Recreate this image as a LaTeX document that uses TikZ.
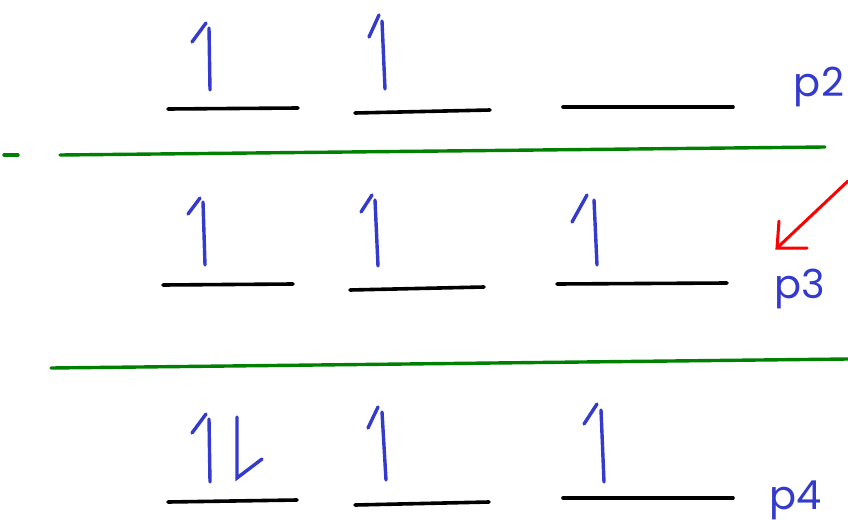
\documentclass[tikz,border=0pt]{standalone}
\usepackage{fontspec}
\setmainfont{Poppins}
\definecolor{penblue}{RGB}{52,58,204}
\definecolor{pengreen}{RGB}{0,128,0}
\definecolor{penred}{RGB}{255,0,0}
\begin{document}
\begin{tikzpicture}[x=1pt,y=-1pt,
  level/.style={line width=3.6pt,line cap=round,black},
  spin/.style={line width=3.4pt,line cap=round,penblue},
  divider/.style={line width=3.4pt,line cap=round,pengreen},
  pointer/.style={line width=3pt,line cap=round,penred},
  shell/.style={text=penblue,font=\fontsize{40}{42}\selectfont,inner sep=0pt}]
\useasboundingbox (0,0) rectangle (848,519);
% row p2
\draw[level] (168,109) -- (298,108);
\draw[level] (355,113) -- (490,110);
\draw[level] (563,107) -- (733,107);
\draw[spin] (210,90) -- (209,28); \draw[spin] (192,42) -- (206,23);
\draw[spin] (385,89) -- (382,21); \draw[spin] (369,37) -- (379,15);
\node[shell] (p2) at (819,87) {p2};
% divider 1
\draw[divider] (4,155) -- (18,155);
\draw[divider] (60,155) -- (825,147);
% row p3
\draw[level] (163,285) -- (293,284);
\draw[level] (350,290) -- (484,287);
\draw[level] (557,284) -- (727,283);
\draw[spin] (205,265) -- (203,202); \draw[spin] (188,214) -- (200,198);
\draw[spin] (378,266) -- (375,200); \draw[spin] (361,212) -- (372,195);
\draw[spin] (597,265) -- (594,200); \draw[spin] (572,222) -- (587,195);
\node[shell] (p3) at (800,289) {p3};
% red arrow
\coordinate (rs) at (848,181);
\coordinate (rt) at (777,248);
\draw[pointer] (rs) -- (rt);
\draw[pointer] (779,221) -- (rt) -- (807,248);
% divider 2
\draw[divider] (51,368) -- (848,359);
% row p4
\draw[level] (168,502) -- (297,500);
\draw[level] (355,505) -- (489,502);
\draw[level] (563,498) -- (733,498);
\draw[spin] (210,482) -- (209,419); \draw[spin] (192,433) -- (206,414);
\draw[spin] (237,417) -- (237,478) -- (262,459);
\draw[spin] (386,480) -- (382,412); \draw[spin] (368,428) -- (378,407);
\draw[spin] (604,482) -- (601,410); \draw[spin] (584,424) -- (597,404);
\node[shell] (p4) at (796,500) {p4};
\end{tikzpicture}
\end{document}
